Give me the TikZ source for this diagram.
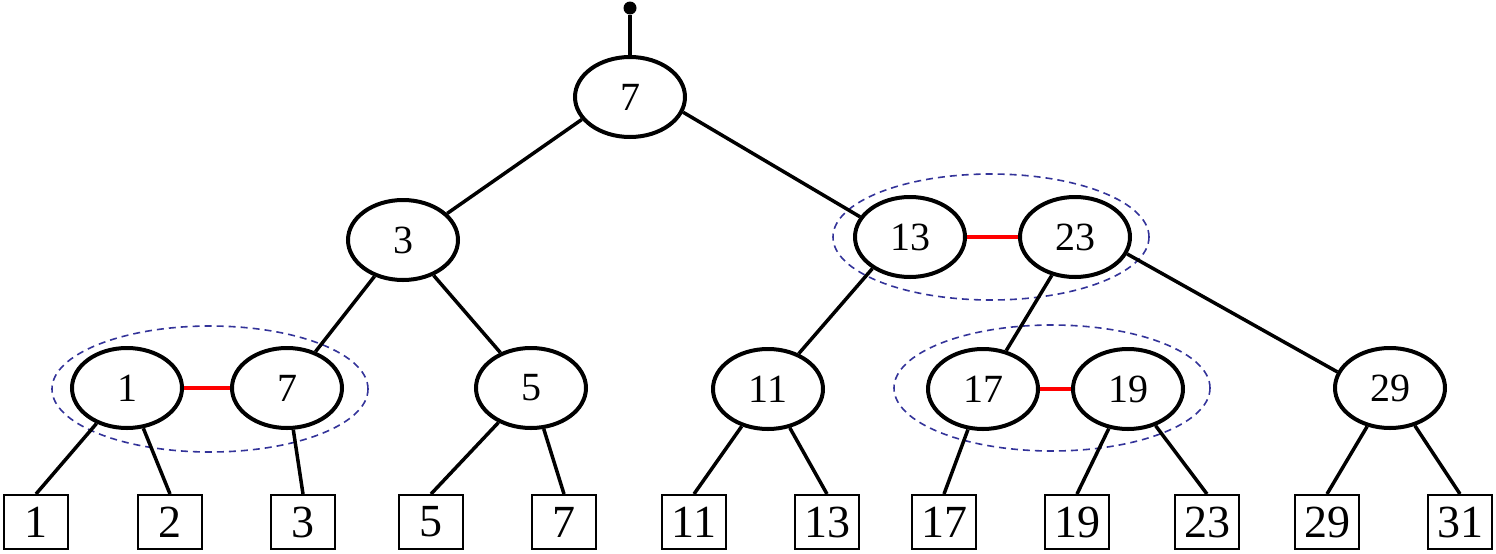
\documentclass[tikz,border=0pt]{standalone}
\usepackage{fontspec}
\setmainfont{Liberation Serif}
\usepackage{xcolor}
\usetikzlibrary{shapes.geometric}
\definecolor{bundlecol}{RGB}{51,51,153}

\begin{document}
\begin{tikzpicture}[
    x=0.5pt,y=-0.5pt,
    inode/.style={ellipse,draw,line width=2pt,fill=white,minimum width=55pt,minimum height=40pt,inner sep=0pt,font=\fontsize{20}{24}\selectfont},
    leaf/.style={rectangle,draw,line width=1pt,fill=white,minimum width=32pt,minimum height=27pt,inner sep=0pt,font=\fontsize{23}{27}\selectfont},
    bundle/.style={ellipse,draw=bundlecol,dash pattern=on 3.5pt off 2.5pt,line width=0.8pt,minimum width=158pt,minimum height=63pt,inner sep=0pt},
    edge/.style={line width=1.75pt},
    link/.style={line width=1.8pt,red}
  ]
    \useasboundingbox (0,0) rectangle (1496,553);
    % 2-3 groups
    \node[bundle] (g17) at (210,389) {};
    \node[bundle] (g1323) at (991,237) {};
    \node[bundle] (g1719) at (1052,388) {};
    % inner nodes
    \node[circle,fill,inner sep=0pt,minimum size=6.5pt] (top) at (630,8) {};
    \node[inode] (r) at (630,97) {7};
    \node[inode] (n3) at (403,240) {3};
    \node[inode] (n13) at (910,237) {13};
    \node[inode] (n23) at (1075,237) {23};
    \node[inode] (n1) at (127,388) {1};
    \node[inode] (n7) at (287,388) {7};
    \node[inode] (n5) at (531,388) {5};
    \node[inode] (n11) at (768,389) {11};
    \node[inode] (n17) at (983,389) {17};
    \node[inode] (n19) at (1128,389) {19};
    \node[inode] (n29) at (1390,388) {29};
    % leaves
    \node[leaf] (l1) at (36,522) {1};
    \node[leaf] (l2) at (170,522) {2};
    \node[leaf] (l3) at (303,522) {3};
    \node[leaf] (l5) at (431,522) {5};
    \node[leaf] (l7) at (564,522) {7};
    \node[leaf] (l11) at (694,522) {11};
    \node[leaf] (l13) at (827,522) {13};
    \node[leaf] (l17) at (944,522) {17};
    \node[leaf] (l19) at (1077,522) {19};
    \node[leaf] (l23) at (1207,522) {23};
    \node[leaf] (l29) at (1327,522) {29};
    \node[leaf] (l31) at (1460,522) {31};
    % edges
    \draw[edge] (top) -- (r);
    \draw[edge] (r.205) -- (n3.31);
    \draw[edge] (r.-16) -- (n13.158);
    \draw[edge] (n3) -- (n7);
    \draw[edge] (n3) -- (n5);
    \draw[edge] (n13.220) -- (n11.49);
    \draw[edge] (n23) -- (n17);
    \draw[edge] (n23.-18) -- (n29.163);
    \draw[edge] (n1) -- (l1.north);
    \draw[edge] (n1) -- (l2.north);
    \draw[edge] (n7) -- (l3.north);
    \draw[edge] (n5) -- (l5.north);
    \draw[edge] (n5) -- (l7.north);
    \draw[edge] (n11) -- (l11.north);
    \draw[edge] (n11) -- (l13.north);
    \draw[edge] (n17) -- (l17.north);
    \draw[edge] (n19) -- (l19.north);
    \draw[edge] (n19) -- (l23.north);
    \draw[edge] (n29) -- (l29.north);
    \draw[edge] (n29) -- (l31.north);
    % red links
    \draw[link] (n1) -- (n7);
    \draw[link] (n13) -- (n23);
    \draw[link] (n17) -- (n19);
  \end{tikzpicture}
\end{document}
